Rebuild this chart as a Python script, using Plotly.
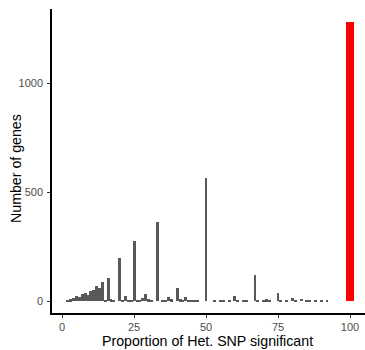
import plotly.graph_objects as go

# Gray histogram bars (proportion %, number of genes)
prop = [2, 3, 4, 5, 6, 7, 8, 9, 10, 11, 12, 13, 14, 15, 16, 17, 18, 20, 21, 22, 23, 24,
        25, 26, 27, 28, 29, 30, 31, 33, 35, 36, 37, 38, 40, 41, 42, 43, 44, 45, 46, 47,
        50, 53, 55, 56, 58, 60, 61, 63, 64, 67, 68, 70, 71, 72, 75, 76, 78, 80, 81, 83,
        85, 86, 88, 90, 92]
genes = [5, 8, 12, 22, 18, 30, 35, 28, 45, 50, 70, 60, 88, 5, 105, 8, 3, 197, 3, 22, 3, 3,
         277, 3, 5, 12, 30, 8, 3, 364, 4, 5, 20, 8, 58, 8, 3, 20, 5, 5, 3, 3,
         566, 3, 5, 4, 3, 22, 5, 3, 3, 119, 3, 5, 8, 4, 36, 3, 4, 14, 5, 10,
         4, 3, 3, 3, 2]

# Highlighted bar at 100%
prop_all = [100]
genes_all = [1280]

x_ticks = [0, 25, 50, 75, 100]
y_ticks = [0, 500, 1000]

W, H = 365, 350
L, R, T, B = 52, 0, 9, 37
PW, PH = W - L - R, H - T - B
X0, Y0 = L, H - B  # panel left / bottom in page pixels

fig = go.Figure()
fig.add_trace(go.Bar(x=prop, y=genes, width=1, marker=dict(color="#595959", line=dict(width=0)),
                     showlegend=False))
fig.add_trace(go.Bar(x=prop_all, y=genes_all, width=2.9, marker=dict(color="#FF0000", line=dict(width=0)),
                     showlegend=False))

fam = "Liberation Sans, Arial, sans-serif"
axis_font = dict(family=fam, size=11, color="#4d4d4d")
fig.update_layout(
    template="none",
    width=W, height=H,
    margin=dict(l=L, r=R, t=T, b=B, pad=0),
    paper_bgcolor="white", plot_bgcolor="white",
    font=dict(family=fam, color="#4d4d4d"),
    bargap=0,
    barmode="overlay",
    xaxis=dict(range=[-3.5, 105.2], tickvals=x_ticks, ticktext=[str(v) for v in x_ticks],
               showgrid=False, zeroline=False, showline=True, linecolor="black", linewidth=1.5,
               ticks="outside", ticklen=3, tickwidth=1, tickcolor="#333333",
               tickfont=axis_font, automargin=False),
    yaxis=dict(range=[-55, 1340], tickvals=y_ticks, ticktext=[str(v) for v in y_ticks],
               showgrid=False, zeroline=False, showline=True, linecolor="black", linewidth=1.5,
               ticks="outside", ticklen=3, tickwidth=1, tickcolor="#333333",
               tickfont=axis_font, ticklabelstandoff=2, automargin=False),
    annotations=[
        dict(text="Proportion of Het. SNP significant", xref="paper", yref="paper",
             x=(207 - X0) / PW, y=(Y0 - 341) / PH, xanchor="center", yanchor="middle",
             showarrow=False, font=dict(family=fam, size=14.2, color="black")),
        dict(text="Number of genes", xref="paper", yref="paper",
             x=(16 - X0) / PW, y=(Y0 - 169) / PH, xanchor="center", yanchor="middle",
             textangle=-90, showarrow=False,
             font=dict(family=fam, size=14.2, color="black")),
    ],
)

fig.write_html(
    "out.html",
    config={"displayModeBar": False},
    post_script="document.body.style.margin='0';document.body.style.overflow='hidden';",
)
